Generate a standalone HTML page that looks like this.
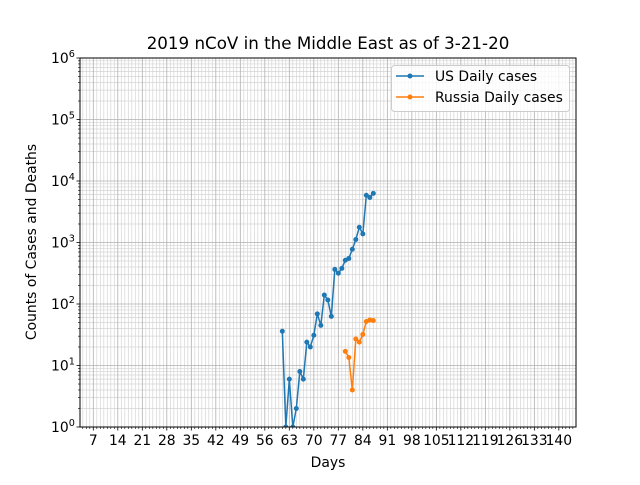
<!DOCTYPE html>
<html><head><meta charset="utf-8"><style>
body{margin:0;background:#fff}
svg text{font-family:"DejaVu Sans","Liberation Sans",sans-serif;fill:#000}
</style></head><body>
<svg id="chart" width="640" height="480" viewBox="0 0 640 480">
<rect width="640" height="480" fill="#fff"/>
<g id="grid"></g><g id="series"></g><g id="axes"></g>
</svg>
<script>
const usDays=[61,62,63,64,65,66,67,68,69,70,71,72,73,74,75,76,77,78,79,80,81,82,83,84,85,86,87];
const usCases=[36,1,6,1,2,8,6,24,20,31,69,45,140,116,63,366,316,380,515,550,776,1120,1770,1380,5860,5400,6300];
const ruDays=[79,80,81,82,83,84,85,86,87];
const ruCases=[17,13.5,4,27,24,32,52,55,54];
const xTicks=[7,14,21,28,35,42,49,56,63,70,77,84,91,98,105,112,119,126,133,140];
const yExps=[0,1,2,3,4,5,6];
const L=80,R=576,T=58,B=427;
const X0=3.2,X1=144.9;
const x=d=>L+(d-X0)/(X1-X0)*(R-L);
const y=v=>B-Math.log10(v)/6*(B-T);
const NS="http://www.w3.org/2000/svg";
function mk(tag,attrs,parent,txt){const e=document.createElementNS(NS,tag);for(const k in attrs)e.setAttribute(k,attrs[k]);if(txt!==undefined)e.textContent=txt;parent.appendChild(e);return e;}
const grid=document.getElementById('grid'),ser=document.getElementById('series'),ax=document.getElementById('axes');
for(let d=4;d<=144;d++){if(d%7===0)continue;const l=mk('line',{x1:x(d),x2:x(d),y1:T,y2:B,stroke:'#d4d4d4','stroke-width':0.7},grid);


mk('line',{x1:x(d),x2:x(d),y1:B,y2:B+2,stroke:'#000','stroke-width':0.6},ax);}
for(let e=0;e<6;e++)for(let m=2;m<10;m++){const v=m*Math.pow(10,e);const l=mk('line',{x1:L,x2:R,y1:y(v),y2:y(v),stroke:'#d4d4d4','stroke-width':0.7},grid);


mk('line',{x1:L-2,x2:L,y1:y(v),y2:y(v),stroke:'#000','stroke-width':0.6},ax);}
xTicks.forEach(t=>{const l=mk('line',{x1:x(t),x2:x(t),y1:T,y2:B,stroke:'#b0b0b0','stroke-width':0.8},grid);


mk('line',{x1:x(t),x2:x(t),y1:B,y2:B+3.5,stroke:'#000','stroke-width':0.8},ax);
const tx=mk('text',{x:x(t),y:B+18,'text-anchor':'middle','font-size':13.9},ax,String(t));

});
yExps.forEach(e=>{const yy=y(Math.pow(10,e));const l=mk('line',{x1:L,x2:R,y1:yy,y2:yy,stroke:'#b0b0b0','stroke-width':0.8},grid);


mk('line',{x1:L-3.5,x2:L,y1:yy,y2:yy,stroke:'#000','stroke-width':0.8},ax);
const tx=mk('text',{x:L-29,y:yy+5,'font-size':13.9},ax,'10');


mk('tspan',{dy:-6,'font-size':9.7},tx,String(e));});
const clip=mk('clipPath',{id:'cp'},document.getElementById('chart'));mk('rect',{x:L,y:T,width:R-L,height:B-T},clip);
function series(days,vals,color,name){const g=mk('g',{'clip-path':'url(#cp)'},ser);


const pts=days.map((d,i)=>x(d)+','+y(vals[i])).join(' ');
mk('polyline',{points:pts,fill:'none',stroke:color,'stroke-width':1.5},g);
days.forEach((d,i)=>{const c=mk('circle',{cx:x(d),cy:y(vals[i]),r:2.5,fill:color},g);

});}
series(usDays,usCases,'#1f77b4','us-daily-cases');
series(ruDays,ruCases,'#ff7f0e','russia-daily-cases');
const fr=mk('rect',{x:L,y:T,width:R-L,height:B-T,fill:'none',stroke:'#000','stroke-width':1},ax);


</script>
<svg style="position:absolute;left:0;top:0" width="640" height="480">
<text x="328" y="49" text-anchor="middle" font-size="16.7">2019 nCoV in the Middle East as of 3-21-20</text>
<text x="328" y="467" text-anchor="middle" font-size="13.9">Days</text>
<text transform="translate(36,242) rotate(-90)" text-anchor="middle" font-size="13.9">Counts of Cases and Deaths</text>
<g>
<rect x="391.5" y="65.5" width="178" height="46" rx="3" fill="#fff" fill-opacity="0.8" stroke="#ccc"/>
<g><line x1="396" x2="424" y1="76" y2="76" stroke="#1f77b4" stroke-width="1.5"/><circle cx="410" cy="76" r="2.5" fill="#1f77b4"/><text x="435" y="81" font-size="13.9">US Daily cases</text></g>
<g><line x1="396" x2="424" y1="97" y2="97" stroke="#ff7f0e" stroke-width="1.5"/><circle cx="410" cy="97" r="2.5" fill="#ff7f0e"/><text x="435" y="102" font-size="13.9">Russia Daily cases</text></g>
</g>
</svg>
</body></html>
